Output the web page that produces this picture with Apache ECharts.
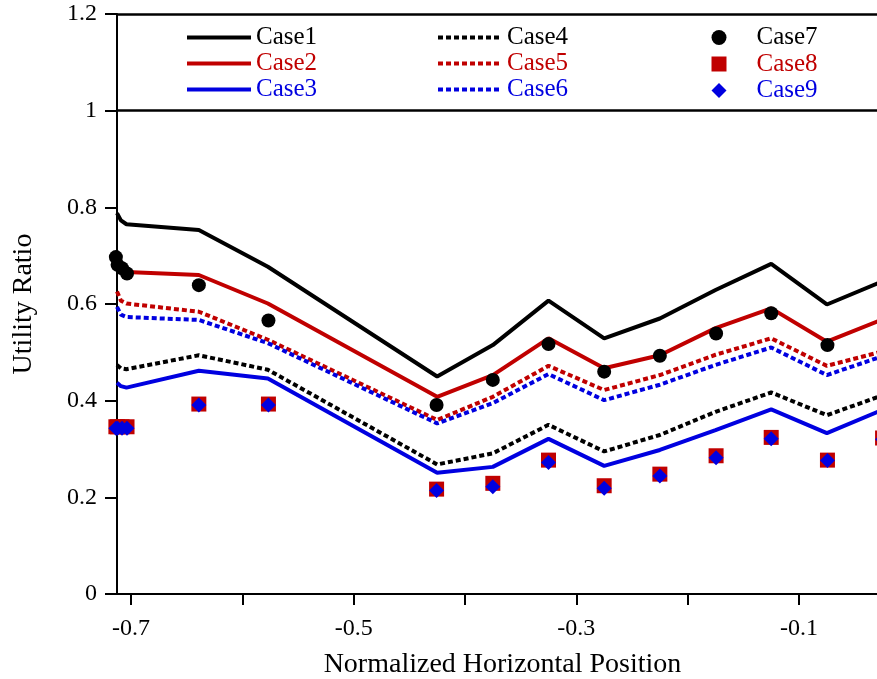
<!DOCTYPE html>
<html>
<head>
<meta charset="utf-8">
<script src="https://cdn.jsdelivr.net/npm/echarts@6/dist/echarts.min.js"></script>
<style>html,body{margin:0;padding:0;background:#fff}#c{width:877px;height:679px}</style>
</head>
<body>
<div id="c"></div>
<script>
// ---- data ----
const lineX = [-0.7125, -0.709, -0.704, -0.639, -0.577, -0.425, -0.375, -0.325, -0.275, -0.225, -0.175, -0.125, -0.075, -0.025];
const case1 = [0.788, 0.773, 0.765, 0.753, 0.677, 0.450, 0.515, 0.607, 0.529, 0.570, 0.629, 0.683, 0.599, 0.647];
const case2 = [0.690, 0.672, 0.666, 0.660, 0.601, 0.408, 0.453, 0.529, 0.467, 0.494, 0.550, 0.591, 0.522, 0.568];
const case3 = [0.437, 0.430, 0.427, 0.462, 0.446, 0.251, 0.263, 0.321, 0.265, 0.298, 0.339, 0.382, 0.333, 0.381];
const case4 = [0.474, 0.467, 0.465, 0.494, 0.464, 0.268, 0.291, 0.350, 0.295, 0.329, 0.377, 0.417, 0.370, 0.411];
const case5 = [0.626, 0.607, 0.601, 0.584, 0.526, 0.360, 0.408, 0.472, 0.422, 0.453, 0.495, 0.529, 0.472, 0.502];
const case6 = [0.594, 0.578, 0.573, 0.567, 0.519, 0.353, 0.395, 0.455, 0.401, 0.433, 0.474, 0.510, 0.453, 0.492];

const scatterX = [-0.7135, -0.712, -0.708, -0.7035, -0.639, -0.5765, -0.4255, -0.375, -0.325, -0.275, -0.225, -0.1745, -0.125, -0.0745, -0.025];
const case7 = [0.697, 0.681, 0.674, 0.663, 0.639, 0.566, 0.391, 0.443, 0.517, 0.460, 0.493, 0.539, 0.581, 0.515];
const case8 = [0.346, 0.346, 0.346, 0.346, 0.393, 0.393, 0.217, 0.229, 0.277, 0.224, 0.248, 0.286, 0.324, 0.277, 0.323];
const case9 = [0.343, 0.343, 0.343, 0.343, 0.391, 0.391, 0.214, 0.222, 0.272, 0.219, 0.244, 0.282, 0.321, 0.276, 0.320];

const xTickValues = [-0.7, -0.6, -0.5, -0.4, -0.3, -0.2, -0.1];
const xLabelValues = [-0.7, -0.5, -0.3, -0.1];
const xLabelTexts = ['-0.7', '-0.5', '-0.3', '-0.1'];
const yTickValues = [0, 0.2, 0.4, 0.6, 0.8, 1, 1.2];
const yLabelTexts = ['0', '0.2', '0.4', '0.6', '0.8', '1', '1.2'];
const refLines = [1, 1.2];

// ---- style ----
const BLACK = '#000000', RED = '#C00000', BLUE = '#0000E0';
const FONT = 'Liberation Serif';
const SOLID_W = 4, DASH_W = 4, DASH = [5, 3];
const pairs = (xs, ys) => ys.map((y, i) => [xs[i], y]);

function lineSeries(name, ys, color, dashed) {
  return {
    name, type: 'line', data: pairs(lineX, ys), symbol: 'none', clip: true,
    lineStyle: dashed ? { color, width: DASH_W, type: DASH } : { color, width: SOLID_W },
    itemStyle: { color }, z: 2
  };
}
function scatterSeries(name, ys, color, symbol, size) {
  return {
    name, type: 'scatter', data: pairs(scatterX, ys), symbol, symbolSize: size,
    symbolKeepAspect: true,
    itemStyle: { color, opacity: 1 }, clip: false, z: 3
  };
}

const series = [
  lineSeries('Case1', case1, BLACK, false),
  lineSeries('Case2', case2, RED, false),
  lineSeries('Case3', case3, BLUE, false),
  lineSeries('Case4', case4, BLACK, true),
  lineSeries('Case5', case5, RED, true),
  lineSeries('Case6', case6, BLUE, true),
  scatterSeries('Case7', case7, BLACK, 'circle', 14),
  scatterSeries('Case8', case8, RED, 'rect', 15),
  scatterSeries('Case9', case9, BLUE, 'diamond', 15)
];
series[0].markLine = {
  silent: true, symbol: 'none', animation: false,
  label: { show: false },
  lineStyle: { color: BLACK, width: 2.5, type: 'solid' },
  data: refLines.map(v => ({ yAxis: v }))
};

function legend(names, colors, left, itemWidth, kind) {
  const lg = {
    orient: 'vertical', left, top: 25, padding: 0,
    itemWidth, itemHeight: 14, itemGap: 1,
    textStyle: { fontFamily: FONT, fontSize: 25 },
    data: names.map((n, i) => ({ name: n, textStyle: { color: colors[i] } }))
  };
  if (kind === 'solid') {
    lg.itemStyle = { opacity: 0 };
    lg.lineStyle = { width: SOLID_W };
  } else if (kind === 'dashed') {
    lg.itemStyle = { opacity: 0 };
    lg.lineStyle = { width: DASH_W, type: DASH };
  } else {
    lg.itemHeight = 15;
    lg.itemWidth = 15;
    lg.itemGap = 1.5;
    lg.textStyle.padding = [0, 0, 0, 25];
  }
  return lg;
}

const option = {
  animation: false,
  backgroundColor: '#fff',
  grid: { left: 117, right: 0, top: 14, bottom: 85, containLabel: false, outerBoundsMode: 'none' },
  legend: [
    legend(['Case1', 'Case2', 'Case3'], [BLACK, RED, BLUE], 185, 64, 'solid'),
    legend(['Case4', 'Case5', 'Case6'], [BLACK, RED, BLUE], 436, 64, 'dashed'),
    legend(['Case7', 'Case8', 'Case9'], [BLACK, RED, BLUE], 711.5, 15, 'symbol')
  ],
  xAxis: {
    type: 'value', min: -0.7125, max: -0.03,
    name: 'Normalized Horizontal Position', nameLocation: 'middle', nameGap: 57,
    nameTextStyle: { fontFamily: FONT, fontSize: 28, color: BLACK, padding: [0, 0, 0, 11] },
    axisLine: { show: true, onZero: false, lineStyle: { color: BLACK, width: 2 } },
    axisTick: { show: true, inside: false, length: 11, customValues: xTickValues, lineStyle: { color: BLACK, width: 2 } },
    axisLabel: {
      show: true, customValues: xLabelValues, margin: 23,
      fontFamily: FONT, fontSize: 24, color: BLACK,
      formatter: v => { const i = xLabelValues.findIndex(t => Math.abs(t - v) < 1e-9); return i >= 0 ? xLabelTexts[i] : ''; }
    },
    splitLine: { show: false }
  },
  yAxis: {
    type: 'value', min: 0, max: 1.2, interval: 0.2,
    name: 'Utility Ratio', nameLocation: 'middle', nameGap: 79, nameRotate: 90,
    nameTextStyle: { fontFamily: FONT, fontSize: 28, color: BLACK },
    axisLine: { show: true, lineStyle: { color: BLACK, width: 2 } },
    axisTick: { show: true, inside: false, length: 12, lineStyle: { color: BLACK, width: 2 } },
    axisLabel: {
      margin: 20, fontFamily: FONT, fontSize: 24, color: BLACK,
      formatter: v => { const i = yTickValues.findIndex(t => Math.abs(t - v) < 1e-9); return i >= 0 ? yLabelTexts[i] : ''; }
    },
    splitLine: { show: false }
  },
  series
};

const chart = echarts.init(document.getElementById('c'), null, { renderer: 'canvas' });
chart.setOption(option);
</script>
</body>
</html>
